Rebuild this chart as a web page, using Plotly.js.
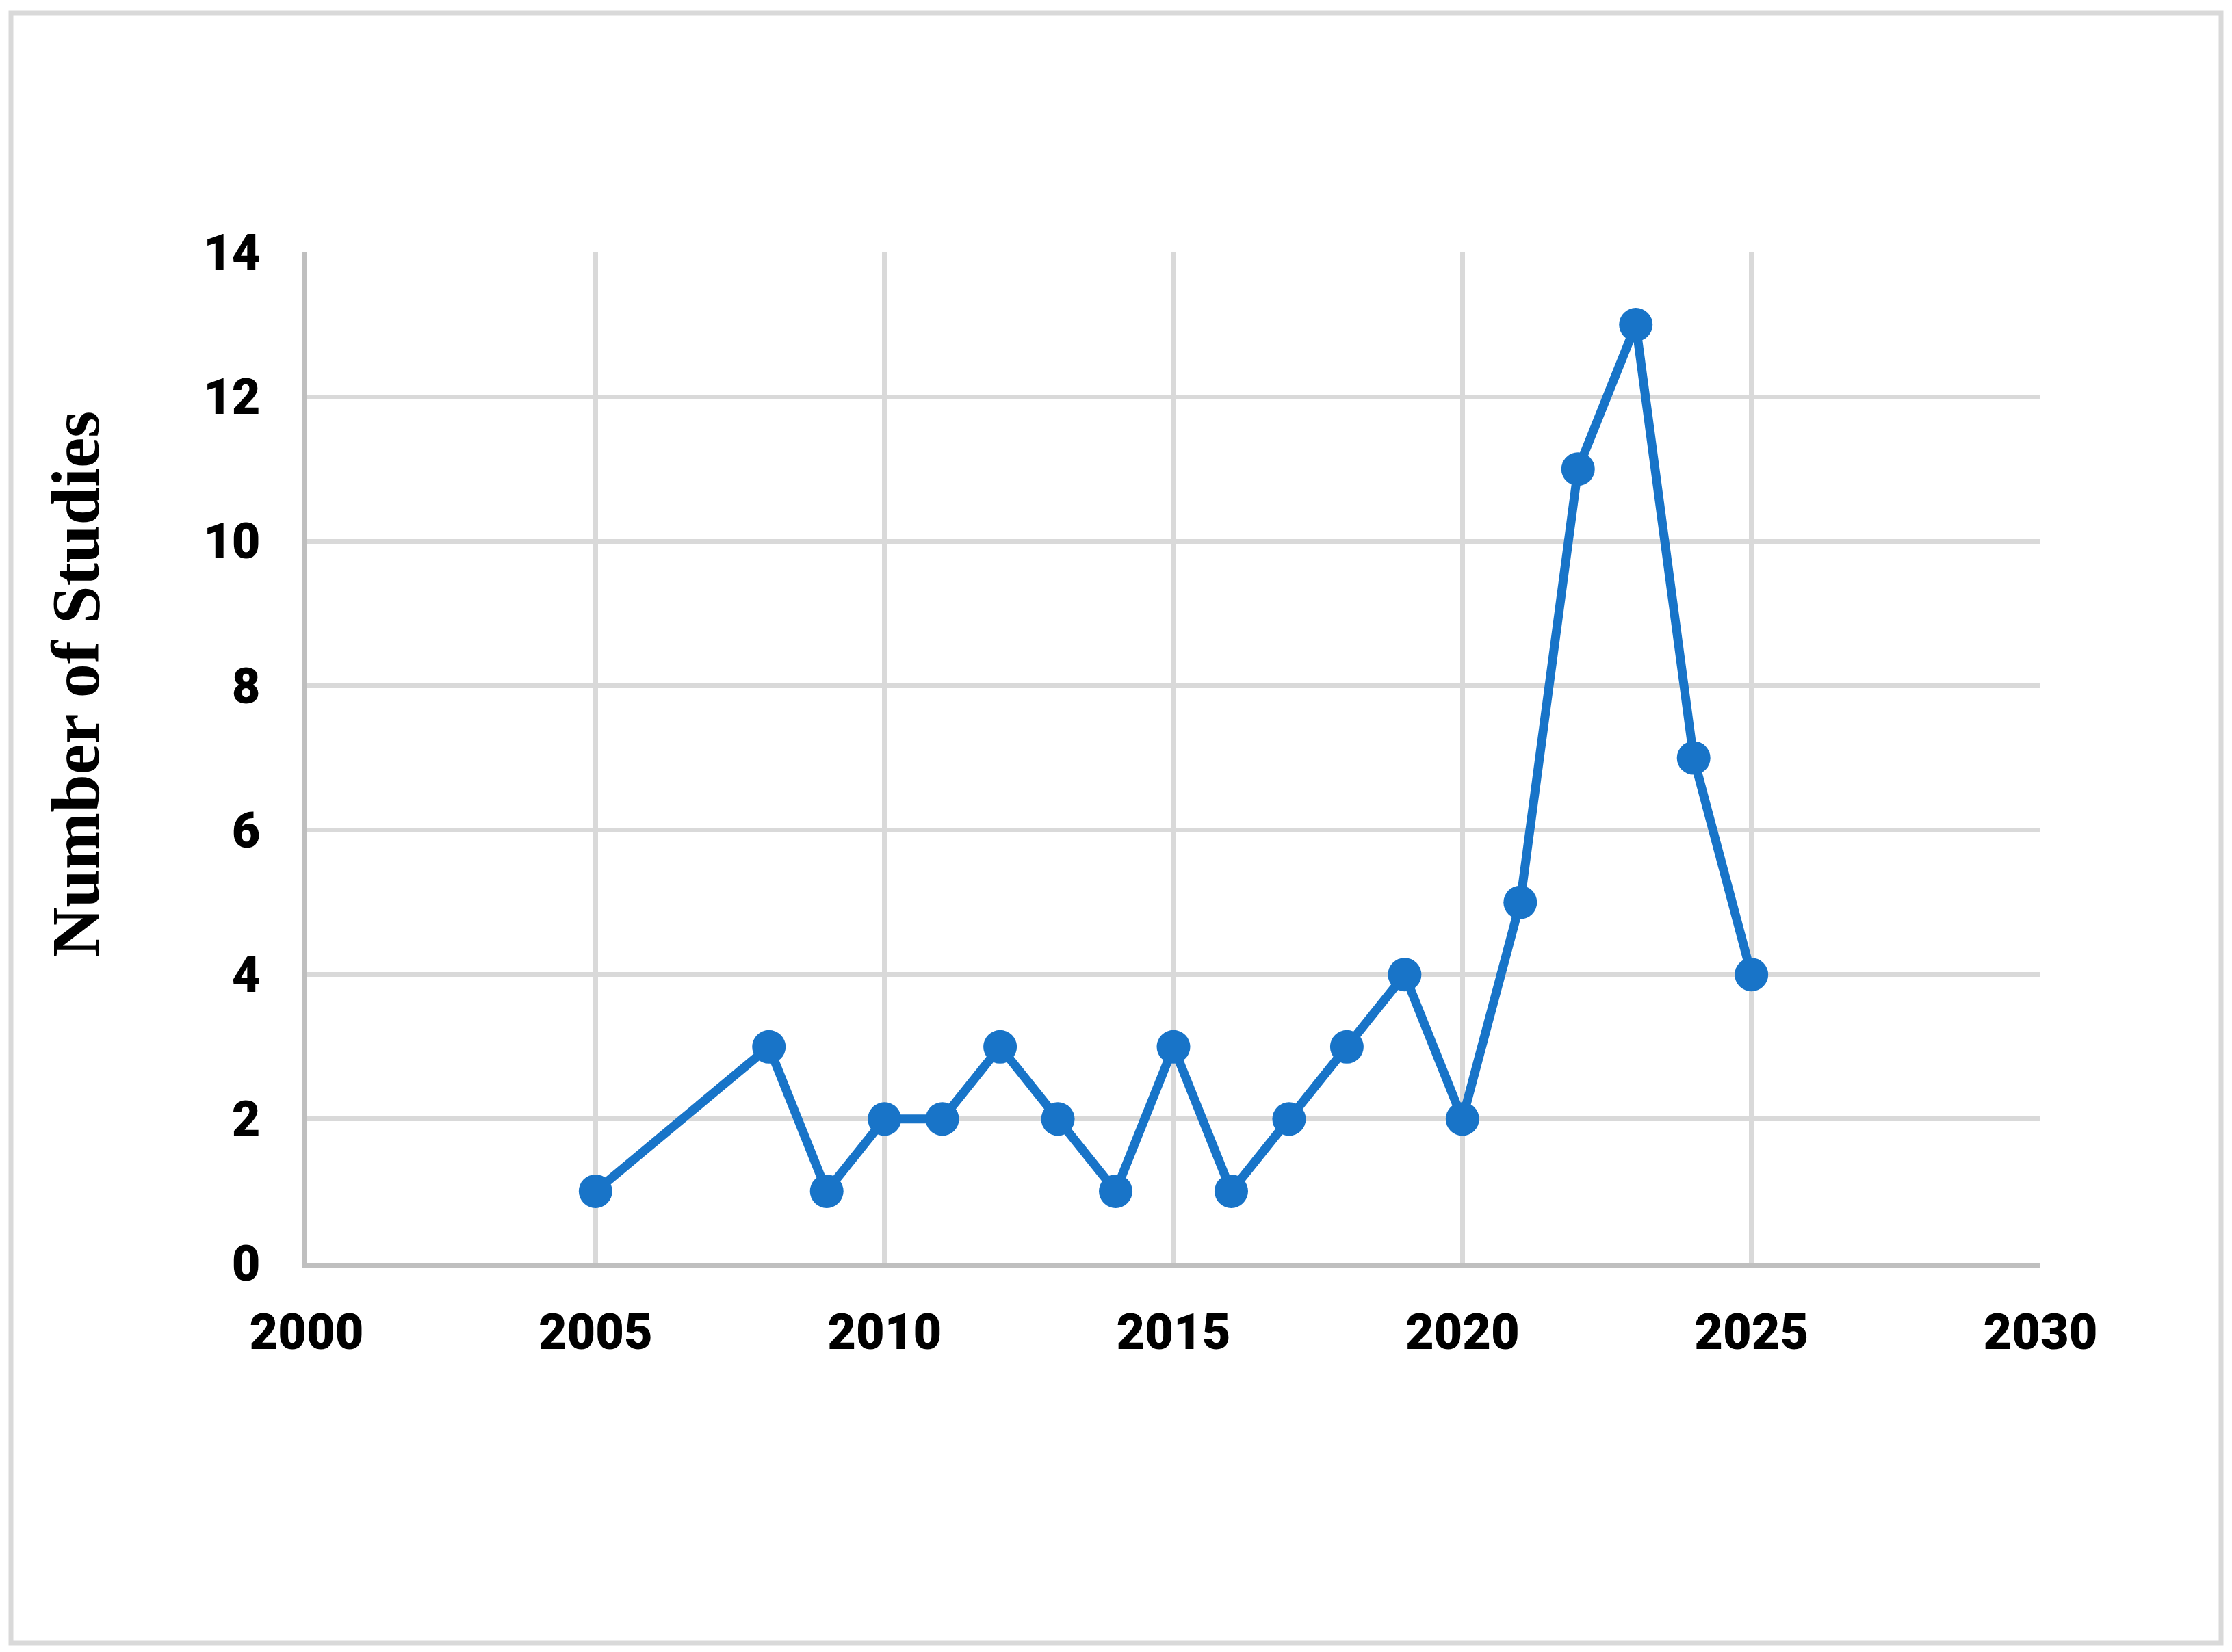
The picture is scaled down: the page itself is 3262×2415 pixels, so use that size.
<!DOCTYPE html>
<html>
<head>
<meta charset="utf-8">
<script src="https://cdn.plot.ly/plotly-3.0.1.min.js"></script>
<style>
  html, body { margin: 0; padding: 0; background: #ffffff; }
  #chart { width: 3262px; height: 2415px; }
</style>
</head>
<body>
<div id="chart"></div>
<script>
// ---- data ----
const years = [2005, 2008, 2009, 2010, 2011, 2012, 2013, 2014, 2015, 2016, 2017, 2018, 2019, 2020, 2021, 2022, 2023, 2024, 2025];
const studies = [1, 3, 1, 2, 2, 3, 2, 1, 3, 1, 2, 3, 4, 2, 5, 11, 13, 7, 4];
const xTicks = [2000, 2005, 2010, 2015, 2020, 2025, 2030];
const yTicks = [0, 2, 4, 6, 8, 10, 12, 14];
const yTitle = "Number of Studies";

// ---- layout geometry (pixels) ----
const W = 3262, H = 2415;
const plotL = 448, plotR = 2982, plotT = 369, plotB = 1847;
const pw = plotR - plotL, ph = plotB - plotT;
const px2x = p => (p - plotL) / pw;
const px2y = p => (plotB - p) / ph;

const blue = "#1874C8";
const tickFont = { family: "Roboto, 'DejaVu Sans', sans-serif", size: 72, color: "#000000", weight: 900 };

const trace = {
  x: years,
  y: studies,
  type: "scatter",
  mode: "lines+markers",
  line: { color: blue, width: 13 },
  marker: { color: blue, size: 49 },
  cliponaxis: false,
  showlegend: false
};

const layout = {
  width: W,
  height: H,
  margin: { l: plotL, r: W - plotR, t: plotT, b: H - plotB, pad: 0 },
  paper_bgcolor: "#ffffff",
  plot_bgcolor: "#ffffff",
  showlegend: false,
  xaxis: {
    range: [xTicks[0], xTicks[xTicks.length - 1]],
    tickmode: "array",
    tickvals: xTicks,
    ticktext: xTicks.map(String),
    showgrid: true,
    gridcolor: "#d9d9d9",
    gridwidth: 7,
    zeroline: false,
    showline: true,
    linecolor: "#bfbfbf",
    linewidth: 7,
    ticks: "",
    ticklabelstandoff: 32,
    tickfont: tickFont,
    fixedrange: true
  },
  yaxis: {
    range: [yTicks[0], yTicks[yTicks.length - 1]],
    tickmode: "array",
    tickvals: yTicks,
    ticktext: yTicks.map(String),
    showgrid: true,
    gridcolor: "#d9d9d9",
    gridwidth: 7,
    zeroline: false,
    showline: true,
    linecolor: "#bfbfbf",
    linewidth: 7,
    ticks: "",
    ticklabelstandoff: 46,
    tickfont: tickFont,
    fixedrange: true
  },
  annotations: [{
    text: "<b>" + yTitle + "</b>",
    xref: "paper", yref: "paper",
    x: px2x(110), y: px2y(1000),
    xanchor: "center", yanchor: "middle",
    textangle: -90,
    showarrow: false,
    font: { family: "'Liberation Serif', 'Times New Roman', serif", size: 100, color: "#000000" }
  }],
  shapes: [{
    type: "rect",
    xref: "paper", yref: "paper",
    x0: px2x(16), x1: px2x(3246),
    y0: px2y(2402), y1: px2y(19),
    line: { color: "#d9d9d9", width: 7 },
    fillcolor: "rgba(0,0,0,0)",
    layer: "below"
  }]
};

Plotly.newPlot("chart", [trace], layout, { staticPlot: true, displayModeBar: false });
</script>
</body>
</html>
